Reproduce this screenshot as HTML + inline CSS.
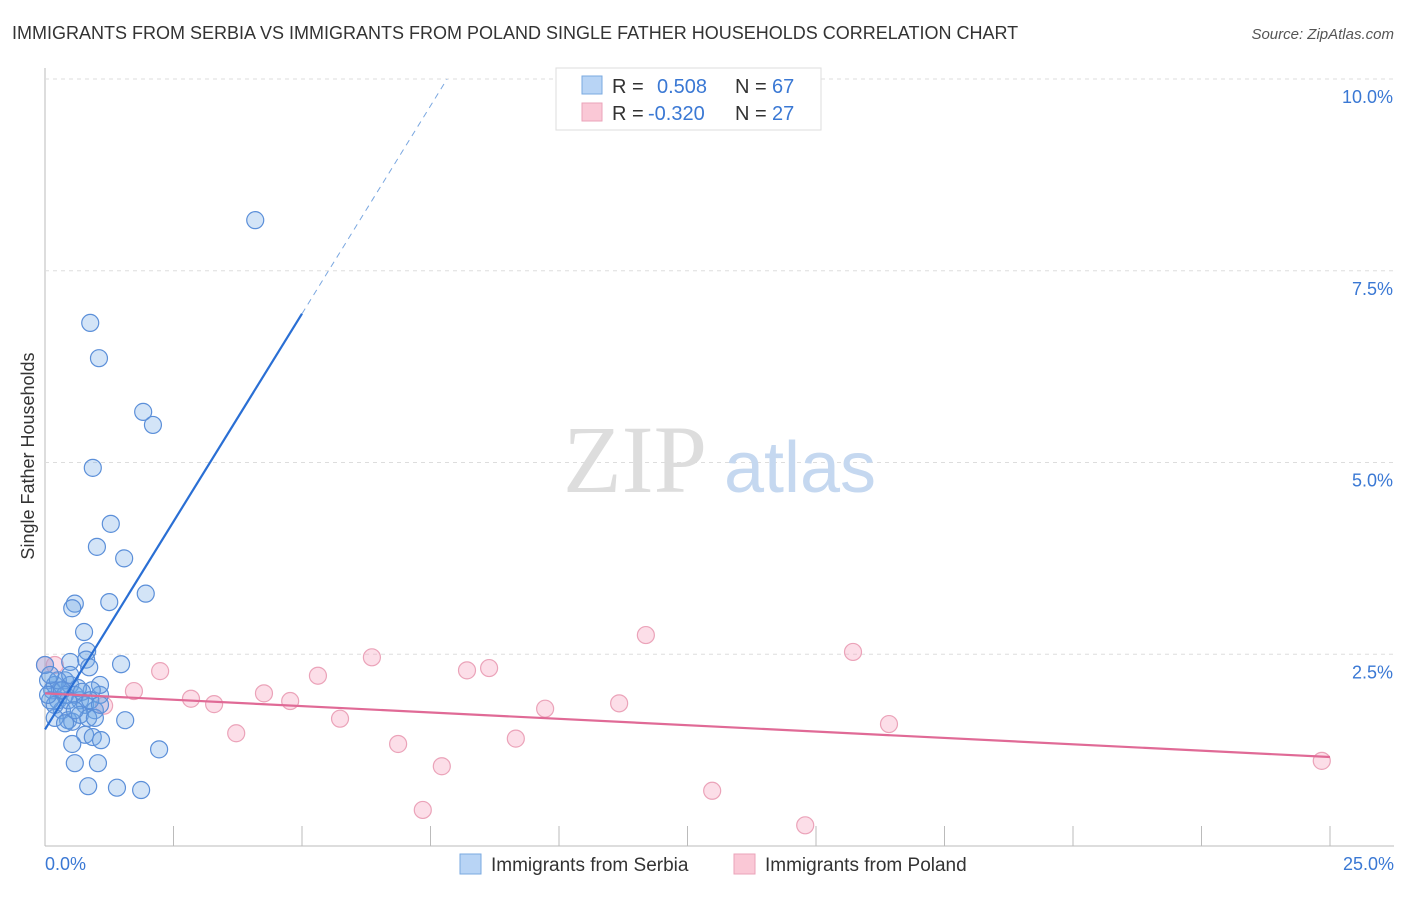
<!DOCTYPE html>
<html><head><meta charset="utf-8"><style>
body{margin:0;background:#fff;font-family:"Liberation Sans",sans-serif}
</style></head><body>
<svg width="1406" height="892" style="font-family:'Liberation Sans',sans-serif">
<text x="12" y="39" font-size="18" fill="#333">IMMIGRANTS FROM SERBIA VS IMMIGRANTS FROM POLAND SINGLE FATHER HOUSEHOLDS CORRELATION CHART</text>
<text x="1394" y="39" font-size="15" fill="#555" font-style="italic" text-anchor="end">Source: ZipAtlas.com</text>
<g id="grid"></g>
<text x="635" y="492" font-size="96" fill="#ddd" font-family="Liberation Serif" text-anchor="middle">ZIP</text>
<text x="800" y="492" font-size="72" fill="#c5d8f0" text-anchor="middle">atlas</text>
<text transform="translate(34,456) rotate(-90)" font-size="18" fill="#333" text-anchor="middle">Single Father Households</text>
<g id="marks"></g>
<g>
<rect x="556" y="68" width="265" height="62" fill="#fff" stroke="#ddd"/>
<rect x="582" y="76" width="20" height="18" fill="#b8d4f5" stroke="#7aaae0"/>
<rect x="582" y="103" width="20" height="18" fill="#fac8d6" stroke="#eba3b9"/>
<text x="612" y="93" font-size="20" fill="#333">R = </text><text x="657" y="93" font-size="20" fill="#3a78d4">0.508</text>
<text x="735" y="93" font-size="20" fill="#333">N = </text><text x="772" y="93" font-size="20" fill="#3a78d4">67</text>
<text x="612" y="120" font-size="20" fill="#333">R = </text><text x="648" y="120" font-size="20" fill="#3a78d4">-0.320</text>
<text x="735" y="120" font-size="20" fill="#333">N = </text><text x="772" y="120" font-size="20" fill="#3a78d4">27</text>
</g>
<g>
<rect x="460" y="854" width="21" height="20" fill="#b8d4f5" stroke="#7aaae0"/>
<text x="491" y="871" font-size="19" fill="#333">Immigrants from Serbia</text>
<rect x="734" y="854" width="21" height="20" fill="#fac8d6" stroke="#eba3b9"/>
<text x="765" y="871" font-size="19" fill="#333">Immigrants from Poland</text>
</g>
</svg>
<script>
const yTicks=[2.5,5.0,7.5,10.0];
const xTickVals=[0,2.5,5,7.5,10,12.5,15,17.5,20,22.5,25];
const serbiaX=[4.09,0.88,1.05,1.91,2.10,0.93,1.28,1.01,1.54,1.96,1.25,0.58,0.53,0.76,0.82,0.80,0.49,1.48,0.86,0.06,0.14,0.19,0.29,0.39,0.49,0.25,0.33,0.58,0.68,0.78,0.97,1.07,1.07,0.91,0.45,0.53,0.68,0.84,0.97,0.10,0.19,0.39,1.56,0.78,0.93,1.09,0.53,2.22,0.58,1.03,0.84,1.40,1.87,0.39,0.64,0,0.19,0.06,0.25,0.45,0.72,0.88,0.33,0.58,0.10,0.49,1.07];
const serbiaY=[8.16,6.82,6.36,5.66,5.49,4.93,4.20,3.90,3.75,3.29,3.18,3.16,3.10,2.79,2.54,2.43,2.40,2.37,2.33,2.16,2.03,2.10,2.03,2.16,2.10,1.90,1.77,1.97,1.90,1.84,1.77,1.97,2.10,2.03,1.64,1.62,1.71,1.67,1.67,1.90,1.67,1.60,1.64,1.45,1.42,1.38,1.33,1.26,1.08,1.08,0.78,0.76,0.73,1.97,2.06,2.36,1.84,1.97,2.16,1.90,2.01,1.90,2.03,1.77,2.23,2.23,1.84];
const polandX=[0,0.19,2.24,1.73,1.15,2.84,3.29,3.72,4.26,4.77,5.31,5.74,6.36,6.87,7.35,7.72,8.21,8.64,9.16,9.73,11.17,11.69,12.98,14.79,15.72,16.42,24.84];
const polandY=[2.36,2.36,2.28,2.02,1.83,1.92,1.85,1.47,1.99,1.89,2.22,1.66,2.46,1.33,0.47,1.04,2.29,2.32,1.40,1.79,1.86,2.75,0.72,0.27,2.53,1.59,1.11];
const serbiaTrend=[1.52,1.084];
const polandTrend=[1.99,-0.0332];
const X=v=>45+v*51.4, Y=v=>846-v*76.7;
const NS='http://www.w3.org/2000/svg';
function mk(t,a,p){const e=document.createElementNS(NS,t);for(const k in a)e.setAttribute(k,a[k]);p.appendChild(e);return e;}
const g=document.getElementById('grid'), m=document.getElementById('marks');
let ax=mk('line',{x1:45,y1:68,x2:45,y2:846,stroke:'#bbb'},g);


let bx=mk('line',{x1:45,y1:846,x2:1394,y2:846,stroke:'#bbb'},g);


yTicks.forEach(v=>{
 const l=mk('line',{x1:45,x2:1394,y1:Y(v),y2:Y(v),stroke:'#ddd','stroke-dasharray':'4,4'},g);
 
 
 const t=mk('text',{x:1393,y:Y(v)+24,'font-size':18,fill:'#3a78d4','text-anchor':'end'},g);t.textContent=v.toFixed(1)+'%';
 
 
});
xTickVals.forEach(v=>{
 const l=mk('line',{x1:X(v),x2:X(v),y1:826,y2:846,stroke:'#bbb'},g);
 
 
});
[[0,'0.0%','start',45],[25,'25.0%','end',1394]].forEach(([v,s,a,x])=>{
 const t=mk('text',{x:x,y:870,'font-size':18,fill:'#3a78d4','text-anchor':a},g);t.textContent=s;
 
 
});
polandX.forEach((x,i)=>{
 const c=mk('circle',{cx:X(x),cy:Y(polandY[i]),r:8.5,fill:'rgba(246,160,190,0.35)',stroke:'#eba3b9','stroke-width':1.2},m);
 
 
});
serbiaX.forEach((x,i)=>{
 const c=mk('circle',{cx:X(x),cy:Y(serbiaY[i]),r:8.5,fill:'rgba(110,165,230,0.3)',stroke:'#5b8fd9','stroke-width':1.2},m);
 
 
});
const sEnd=5.0, sTop=(10.0-serbiaTrend[0])/serbiaTrend[1];
let t1=mk('line',{x1:X(0),y1:Y(serbiaTrend[0]),x2:X(sEnd),y2:Y(serbiaTrend[0]+serbiaTrend[1]*sEnd),stroke:'#2a6fd4','stroke-width':2.2},m);


let t2=mk('line',{x1:X(sEnd),y1:Y(serbiaTrend[0]+serbiaTrend[1]*sEnd),x2:X(sTop),y2:Y(10.0),stroke:'#7aa7e0','stroke-width':1,'stroke-dasharray':'6,5'},m);


let t3=mk('line',{x1:X(0),y1:Y(polandTrend[0]),x2:X(25),y2:Y(polandTrend[0]+polandTrend[1]*25),stroke:'#e06a96','stroke-width':2.2},m);


</script>
</body></html>
